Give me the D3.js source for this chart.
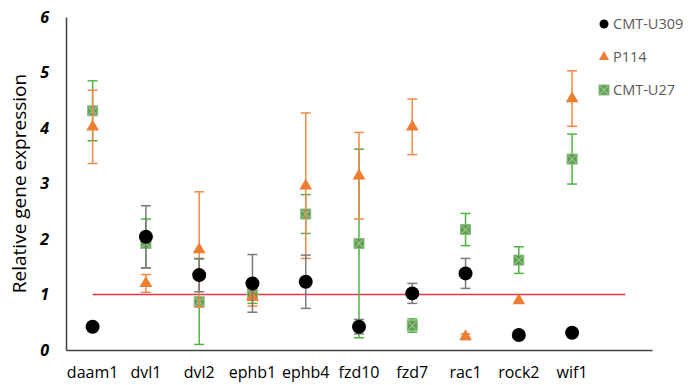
<!DOCTYPE html>
<html>
<head>
<meta charset="utf-8">
<script src="https://cdn.jsdelivr.net/npm/d3@7"></script>
<style>
  body { margin: 0; background: #fff; }
  text { font-family: "Open Sans", sans-serif; }
</style>
</head>
<body>
<div id="chart"></div>
<script>
// genes along the x axis (the last slot is empty, Excel-style)
const genes = ["daam1", "dvl1", "dvl2", "ephb1", "ephb4", "fzd10", "fzd7", "rac1", "rock2", "wif1", ""];
const yTicks = [0, 1, 2, 3, 4, 5, 6];

const u309 = [0.42, 2.04, 1.35, 1.20, 1.23, 0.42, 1.02, 1.38, 0.27, 0.31];
const u309Err = [0, 0.56, 0.30, 0.52, 0.48, 0.13, 0.18, 0.27, 0, 0];
const p114 = [4.02, 1.20, 1.81, 0.95, 2.96, 3.14, 4.02, 0.24, 0.89, 4.53];
const p114Err = [0.66, 0.16, 1.04, 0.16, 1.31, 0.78, 0.50, 0.05, 0, 0.50];
const u27 = [4.31, 1.92, 0.87, 1.00, 2.45, 1.92, 0.44, 2.17, 1.62, 3.44];
const u27Err = [0.54, 0.44, 0.77, 0.16, 0.35, 1.70, 0.12, 0.29, 0.24, 0.45];
const baseline = [1, 1, 1, 1, 1, 1, 1, 1, 1, 1, 1];

const width = 688, height = 385;
const margin = { top: 17, right: 36, bottom: 35, left: 66 };

const svg = d3.select("#chart").append("svg")
    .attr("width", width)
    .attr("height", height);

const x = d3.scaleBand()
    .domain(genes)
    .range([margin.left, width - margin.right]);
const y = d3.scaleLinear()
    .domain([0, 6])
    .range([height - margin.bottom, margin.top]);
const cx = g => x(g) + x.bandwidth() / 2;

// axes
svg.append("g")
    .attr("transform", `translate(${margin.left},0)`)
    .call(d3.axisLeft(y).tickValues(yTicks).tickFormat(d3.format("d")).tickSize(0).tickPadding(17))
    .call(g => g.select(".domain").attr("stroke", "#404040").attr("stroke-width", 1.5))
    .call(g => g.selectAll("text")
        .attr("font-size", 16).attr("font-weight", "bold").attr("font-style", "italic")
        .attr("fill", "#000"));

svg.append("g")
    .attr("transform", `translate(0,${y(0)})`)
    .call(d3.axisBottom(x).tickSize(0).tickPadding(17).tickSizeOuter(0))
    .call(g => g.select(".domain").attr("stroke", "#404040").attr("stroke-width", 1.5))
    .call(g => g.selectAll("text").attr("font-size", 16).attr("fill", "#000"));

svg.append("text")
    .attr("transform", `translate(19,${(y(0) + y(6)) / 2}) rotate(-90)`)
    .attr("text-anchor", "middle")
    .attr("dy", "0.35em")
    .attr("font-size", 19)
    .attr("fill", "#000")
    .text("Relative gene expression");

// red reference line at 1
svg.append("path")
    .datum(baseline)
    .attr("fill", "none")
    .attr("stroke", "#e8344a")
    .attr("stroke-width", 1.5)
    .attr("d", d3.line().x((d, i) => cx(genes[i])).y(d => y(d)));

function errorBars(vals, errs, color) {
    const g = svg.append("g").attr("stroke", color).attr("stroke-width", 1.5);
    vals.forEach((v, i) => {
        if (!errs[i]) return;
        const px = cx(genes[i]);
        const lo = y(v - errs[i]), hi = y(v + errs[i]);
        g.append("line").attr("x1", px).attr("x2", px).attr("y1", lo).attr("y2", hi);
        g.append("line").attr("x1", px - 5).attr("x2", px + 5).attr("y1", lo).attr("y2", lo);
        g.append("line").attr("x1", px - 5).attr("x2", px + 5).attr("y1", hi).attr("y2", hi);
    });
}

const square = (g, px, py) => {
    g.append("rect").attr("x", px - 5).attr("y", py - 5).attr("width", 10).attr("height", 10)
        .attr("fill", "#52a83a").attr("stroke", "#8fb889").attr("stroke-width", 1);
    g.append("path").attr("d", `M${px - 4},${py - 4}L${px + 4},${py + 4}M${px + 4},${py - 4}L${px - 4},${py + 4}`)
        .attr("stroke", "#b0b0b0").attr("stroke-width", 1.2);
};
const triangle = d3.symbol().type(d3.symbolTriangle).size(70);

// CMT-U27
errorBars(u27, u27Err, "#4fb340");
const gU27 = svg.append("g");
u27.forEach((v, i) => square(gU27, cx(genes[i]), y(v)));

// P114
errorBars(p114, p114Err, "#f2884a");
svg.append("g").selectAll("path")
    .data(p114)
    .join("path")
    .attr("d", triangle)
    .attr("transform", (d, i) => `translate(${cx(genes[i])},${y(d)})`)
    .attr("fill", "#ed7d31");

// CMT-U309
errorBars(u309, u309Err, "#7a7a7a");
svg.append("g").selectAll("circle")
    .data(u309)
    .join("circle")
    .attr("cx", (d, i) => cx(genes[i]))
    .attr("cy", d => y(d))
    .attr("r", 7)
    .attr("fill", "#000");

// legend
const legend = svg.append("g").attr("transform", "translate(604,24)");
const items = ["CMT-U309", "P114", "CMT-U27"];
items.forEach((name, i) => {
    const g = legend.append("g").attr("transform", `translate(0,${i * 33})`);
    if (i === 0) g.append("circle").attr("r", 4.5).attr("fill", "#000");
    if (i === 1) g.append("path").attr("d", d3.symbol().type(d3.symbolTriangle).size(45)).attr("fill", "#ed7d31");
    if (i === 2) square(g, 0, 0);
    g.append("text").attr("x", 9).attr("dy", "0.35em")
        .attr("font-size", 14.5).attr("fill", "#595959").text(name);
});
</script>
</body>
</html>
